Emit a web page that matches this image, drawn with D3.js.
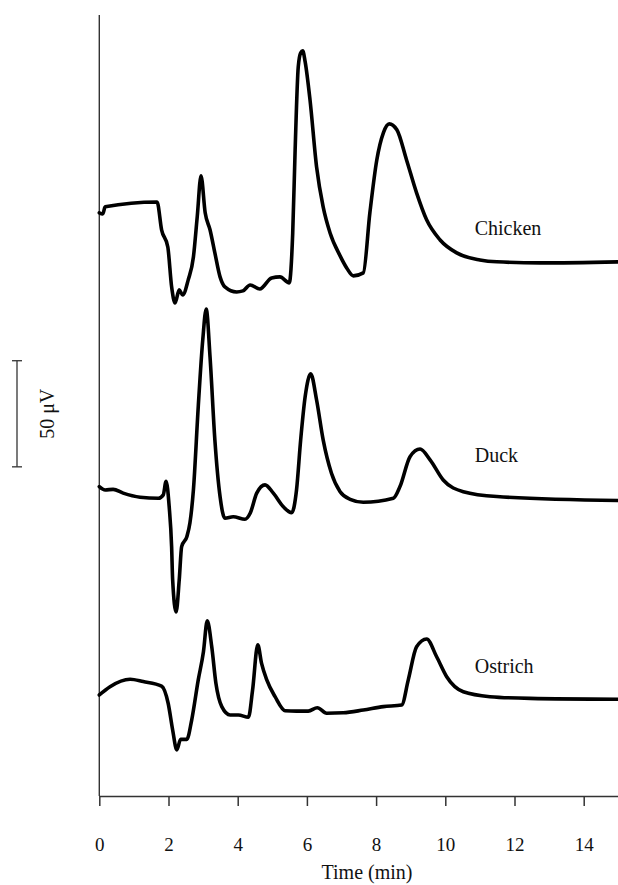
<!DOCTYPE html>
<html>
<head>
<meta charset="utf-8">
<script src="https://cdn.jsdelivr.net/npm/d3@7"></script>
<style>
  html, body { margin: 0; padding: 0; background: #fff; }
  svg { display: block; }
  text { font-family: "Liberation Serif", "Times New Roman", serif; fill: #111; }
</style>
</head>
<body>
<div id="chart"></div>
<script>
// retention times (min) and detector signal (μV, relative to each trace's own baseline)
const chickenTime = [0, 0.10, 0.17, 1.67, 1.80, 1.98, 2.09, 2.19, 2.31, 2.41, 2.57, 2.72, 2.83, 2.94, 3.06, 3.20,
  3.34, 3.49, 3.63, 3.97, 4.15, 4.36, 4.64, 4.98, 5.22, 5.49, 5.59, 5.66, 5.75, 5.82, 5.88, 5.95, 6.09, 6.28,
  6.47, 6.67, 6.96, 7.15, 7.34, 7.63, 7.82, 8.02, 8.21, 8.38, 8.60, 8.88, 9.17, 9.46, 9.85, 10.33, 11.00,
  11.49, 12.74, 15]
const chickenSignal = [23.6, 23.1, 26.4, 28.7, 15.6, 7.5, -11.3, -18.9, -12.7, -15.1, -8.0, 2.8, 21.7, 41.0, 23.6, 15.6,
  4.7, -6.6, -11.3, -13.7, -13.2, -10.4, -12.3, -7.1, -6.6, -9.4, 14.1, 53.3, 92.4, 99.0, 99.9, 94.7, 76.8, 45.2,
  26.4, 14.1, 3.3, -2.4, -6.1, -4.7, 23.6, 48.5, 61.3, 65.5, 62.7, 48.5, 33.0, 20.3, 10.8, 4.7, 1.4,
  0.5, 0.0, 0.5]

const duckTime = [0, 0.17, 0.40, 0.69, 1.18, 1.71, 1.85, 1.93, 2.02, 2.09, 2.12, 2.22, 2.31, 2.38, 2.53, 2.62,
  2.72, 2.86, 2.99, 3.09, 3.20, 3.34, 3.49, 3.63, 3.87, 4.21, 4.36, 4.55, 4.79, 5.03, 5.32, 5.56, 5.70, 5.82,
  5.95, 6.11, 6.28, 6.47, 6.71, 6.96, 7.25, 7.63, 8.50, 8.69, 8.98, 9.27, 9.56, 9.94, 10.52, 11.49, 15]
const duckSignal = [6.3, 4.7, 5.0, 3.2, 1.3, 0.8, 2.4, 8.8, -3.2, -22.0, -37.7, -52.8, -37.7, -22.0, -17.3, -10.8,
  4.7, 44.0, 75.4, 90.0, 67.5, 28.3, 1.6, -8.6, -7.9, -9.1, -6.3, 3.2, 7.1, 3.2, -3.2, -6.0, 4.7, 28.3,
  48.7, 59.4, 47.1, 28.3, 12.6, 3.9, 0.3, -1.1, 0.8, 6.3, 20.4, 24.0, 18.9, 9.4, 3.9, 1.6, -0.3]

const ostrichTime = [0, 0.31, 0.89, 1.27, 1.80, 1.99, 2.12, 2.24, 2.35, 2.53, 2.67, 2.86, 3.01, 3.12, 3.25, 3.37,
  3.54, 3.78, 4.02, 4.31, 4.43, 4.58, 4.69, 4.84, 5.08, 5.37, 5.70, 6.04, 6.30, 6.57, 7.05, 7.63, 8.21, 8.74,
  8.93, 9.17, 9.46, 9.75, 10.04, 10.52, 11.29, 12.45, 15]
const ostrichSignal = [1.9, 5.8, 9.3, 8.2, 6.1, -2.0, -14.6, -24.0, -19.0, -19.0, -9.9, 9.0, 22.3, 36.8, 24.6, 7.4,
  -3.6, -7.5, -7.5, -8.6, 4.2, 25.5, 16.8, 9.0, 1.1, -5.5, -5.7, -5.7, -4.1, -6.7, -6.5, -5.2, -3.6, -2.8,
  9.0, 24.6, 28.3, 19.9, 10.5, 3.4, 1.1, 0.3, -0.1]

const sampleNames = ['Chicken', 'Duck', 'Ostrich']
const traceOffsets = [251.2, 139.5, 45.7]   // μV, vertical stacking of the traces
const xTicks = [0, 2, 4, 6, 8, 10, 12, 14]
const scaleBarValue = 50                     // μV

const traces = [
  { name: sampleNames[0], t: chickenTime, v: chickenSignal, offset: traceOffsets[0], dy: -28 },
  { name: sampleNames[1], t: duckTime, v: duckSignal, offset: traceOffsets[1], dy: -38 },
  { name: sampleNames[2], t: ostrichTime, v: ostrichSignal, offset: traceOffsets[2], dy: -26 },
]

const W = 618, H = 885
const x = d3.scaleLinear().domain([0, 15]).range([99.3, 618.3])
const y = d3.scaleLinear().domain([0, 368]).range([796, 15])

const svg = d3.select('#chart').append('svg')
  .attr('width', W)
  .attr('height', H)

// y axis: bare line
svg.append('line')
  .attr('x1', x(0)).attr('x2', x(0))
  .attr('y1', y(368)).attr('y2', y(0))
  .attr('stroke', '#333')
  .attr('stroke-width', 1.4)

// x axis
const xAxis = svg.append('g')
  .attr('transform', `translate(0,${y(0)})`)
  .call(d3.axisBottom(x)
    .tickValues(xTicks)
    .tickSize(10)
    .tickSizeOuter(0)
    .tickPadding(32)
    .tickFormat(d3.format('d')))
xAxis.select('.domain').attr('stroke', '#333').attr('stroke-width', 1.6)
xAxis.selectAll('.tick line').attr('stroke', '#333').attr('stroke-width', 1.5)
xAxis.selectAll('.tick text')
  .attr('font-size', 19)
  .attr('font-family', '"Liberation Serif", "Times New Roman", serif')
  .attr('fill', '#111')

svg.append('text')
  .attr('x', 367)
  .attr('y', 879)
  .attr('text-anchor', 'middle')
  .attr('font-size', 20)
  .text('Time (min)')

// traces
const line = d3.line()
  .x(d => x(d[0]))
  .y(d => y(d[1]))
  .curve(d3.curveMonotoneX)

svg.append('g')
  .selectAll('path')
  .data(traces)
  .join('path')
    .attr('d', d => line(d.t.map((t, i) => [t, d.v[i] + d.offset])))
    .attr('fill', 'none')
    .attr('stroke', '#000')
    .attr('stroke-width', 3.6)
    .attr('stroke-linejoin', 'round')
    .attr('stroke-linecap', 'round')

svg.append('g')
  .selectAll('text')
  .data(traces)
  .join('text')
    .attr('x', x(10.85))
    .attr('y', d => y(d.offset) + d.dy)
    .attr('font-size', 20)
    .text(d => d.name)

// 50 μV scale bar
const barBottom = 155.1
const bar = svg.append('g').attr('stroke', '#333').attr('stroke-width', 1.3)
bar.append('line')
  .attr('x1', 17).attr('x2', 17)
  .attr('y1', y(barBottom)).attr('y2', y(barBottom + scaleBarValue))
bar.selectAll('.cap')
  .data([barBottom, barBottom + scaleBarValue])
  .join('line')
    .attr('class', 'cap')
    .attr('x1', 12).attr('x2', 22)
    .attr('y1', d => y(d)).attr('y2', d => y(d))

svg.append('text')
  .attr('transform', `translate(54,${(y(barBottom) + y(barBottom + scaleBarValue)) / 2}) rotate(-90)`)
  .attr('text-anchor', 'middle')
  .attr('font-size', 20)
  .text(`${scaleBarValue} μV`)
</script>
</body>
</html>
